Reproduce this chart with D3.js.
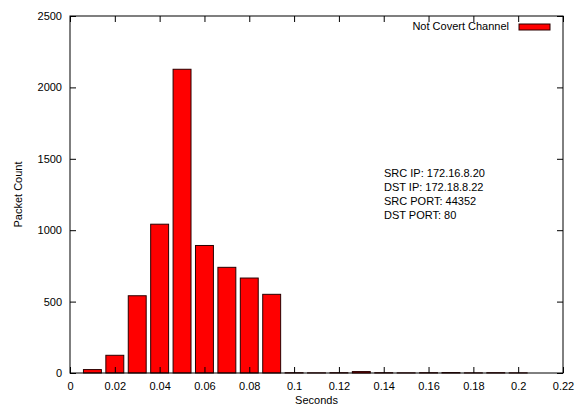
<!DOCTYPE html>
<html>
<head>
<meta charset="utf-8">
<script src="https://cdn.jsdelivr.net/npm/d3@7"></script>
<style>
  body { margin: 0; background: #fff; }
  text { font-family: "Liberation Sans", Arial, sans-serif; }
</style>
</head>
<body>
<div id="chart"></div>
<script>
// histogram bins (seconds) and packet counts
const binCenters = [0.01, 0.02, 0.03, 0.04, 0.05, 0.06, 0.07, 0.08, 0.09, 0.10, 0.11, 0.12, 0.13, 0.14, 0.15, 0.16, 0.17, 0.18, 0.19, 0.20];
const packetCounts = [24, 124, 541, 1042, 2127, 893, 740, 665, 551, 2, 1, 2, 10, 2, 1, 2, 3, 1, 2, 1];
const xTicks = [0, 0.02, 0.04, 0.06, 0.08, 0.1, 0.12, 0.14, 0.16, 0.18, 0.2, 0.22];
const yTicks = [0, 500, 1000, 1500, 2000, 2500];
const seriesName = "Not Covert Channel";
const infoLines = ["SRC IP: 172.16.8.20", "DST IP: 172.18.8.22", "SRC PORT: 44352", "DST PORT: 80"];

const data = binCenters.map((c, i) => ({ x: c, count: packetCounts[i] }));

const W = 576, H = 405;
const margin = { top: 16, right: 13, bottom: 32, left: 70 };
const plotL = margin.left, plotR = W - margin.right, plotT = margin.top, plotB = H - margin.bottom;

const x = d3.scaleLinear().domain([0, 0.22]).range([plotL, plotR]);
const y = d3.scaleLinear().domain([0, 2500]).range([plotB, plotT]);
const binWidth = 0.008;

const svg = d3.select("#chart").append("svg")
    .attr("width", W)
    .attr("height", H);

// bars
svg.selectAll(".bar")
    .data(data)
    .enter().append("rect")
    .attr("class", "bar")
    .attr("x", d => x(d.x - binWidth / 2))
    .attr("width", x(binWidth) - x(0))
    .attr("y", d => y(d.count))
    .attr("height", d => y(0) - y(d.count))
    .attr("fill", "#ff0000")
    .attr("stroke", "#2a0000")
    .attr("stroke-width", 1);

const fmt = d => String(+d.toFixed(2));

// axes, ticks pointing inward
svg.append("g")
    .attr("transform", "translate(0," + plotB + ")")
    .call(d3.axisBottom(x).tickValues(xTicks).tickFormat(fmt).tickSizeInner(-6).tickSizeOuter(0).tickPadding(9));
svg.append("g")
    .attr("transform", "translate(0," + plotT + ")")
    .call(d3.axisTop(x).tickValues(xTicks).tickFormat("").tickSizeInner(-6).tickSizeOuter(0));
svg.append("g")
    .attr("transform", "translate(" + plotL + ",0)")
    .call(d3.axisLeft(y).tickValues(yTicks).tickFormat(d3.format("d")).tickSizeInner(-6).tickSizeOuter(0).tickPadding(8));
svg.append("g")
    .attr("transform", "translate(" + plotR + ",0)")
    .call(d3.axisRight(y).tickValues(yTicks).tickFormat("").tickSizeInner(-6).tickSizeOuter(0));

svg.selectAll(".domain").remove();
svg.selectAll(".tick line").attr("stroke", "#000");
svg.selectAll(".tick text").attr("font-size", 11).attr("fill", "#000")
    .attr("font-family", "'Liberation Sans', Arial, sans-serif");

// frame
svg.append("rect")
    .attr("x", plotL).attr("y", plotT)
    .attr("width", plotR - plotL).attr("height", plotB - plotT)
    .attr("fill", "none").attr("stroke", "#000").attr("stroke-width", 1);

// axis labels
svg.append("text")
    .attr("x", (plotL + plotR) / 2).attr("y", 404)
    .attr("text-anchor", "middle").attr("font-size", 11)
    .text("Seconds");

svg.append("text")
    .attr("transform", "translate(22," + ((plotT + plotB) / 2) + ") rotate(-90)")
    .attr("text-anchor", "middle").attr("font-size", 11)
    .text("Packet Count");

// legend
svg.append("text")
    .attr("x", 509).attr("y", 30)
    .attr("text-anchor", "end").attr("font-size", 11)
    .text(seriesName);
svg.append("rect")
    .attr("x", 519).attr("y", 24)
    .attr("width", 31).attr("height", 6)
    .attr("fill", "#ff0000").attr("stroke", "#2a0000");

// connection info
svg.append("g").selectAll("text")
    .data(infoLines)
    .enter().append("text")
    .attr("x", 384)
    .attr("y", (d, i) => 177 + i * 14)
    .attr("font-size", 11)
    .text(d => d);
</script>
</body>
</html>
